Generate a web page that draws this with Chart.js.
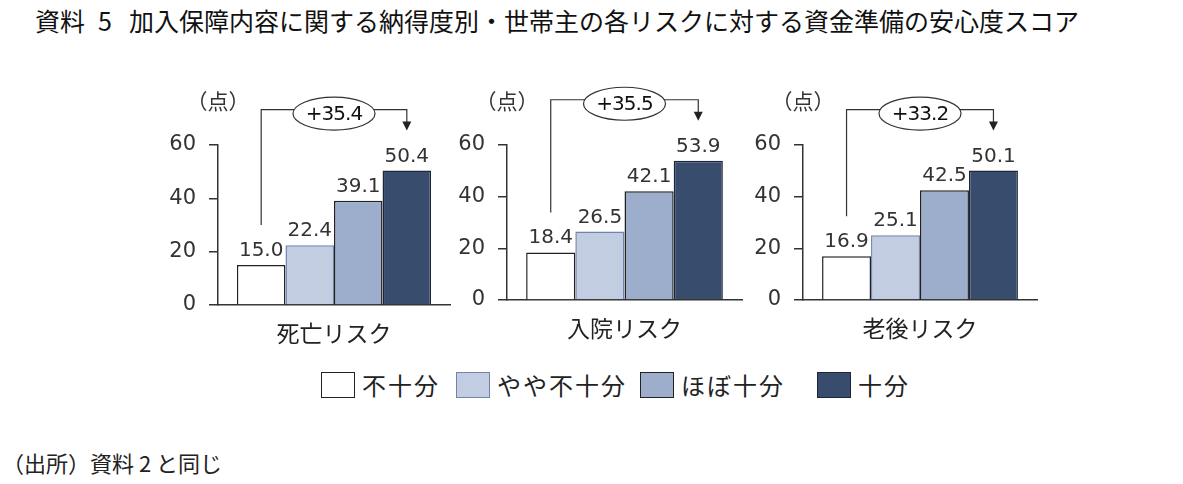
<!DOCTYPE html>
<html>
<head>
<meta charset="utf-8">
<script src="https://cdn.jsdelivr.net/npm/chart.js@4/dist/chart.umd.min.js"></script>
<style>
    body { margin: 0; background: #fff; width: 1183px; height: 484px; position: relative; overflow: hidden;
           font-family: "Noto Sans CJK JP", sans-serif; color: #222; }
    #title { position: absolute; left: 35px; top: 8px; font-size: 25px; line-height: 25px; font-weight: 400; white-space: nowrap; color: #111; }
    #title .n { margin: 0 17px 0 13px; }
    #source { position: absolute; left: 2px; top: 451px; font-size: 22px; line-height: 22px; white-space: nowrap; }
    canvas { position: absolute; top: 80px; }
    .lg-box { position: absolute; top: 372px; width: 34px; height: 26px; box-sizing: border-box; }
    .lg-text { position: absolute; top: 373px; font-size: 24px; line-height: 24px; letter-spacing: 2px; white-space: nowrap; }
</style>
</head>
<body>
<div id="title">資料<span class="n">5</span>加入保障内容に関する納得度別・世帯主の各リスクに対する資金準備の安心度スコア</div>
<canvas id="c0" width="310" height="280"></canvas>
<canvas id="c1" width="310" height="280"></canvas>
<canvas id="c2" width="310" height="280"></canvas>
<div id="legend"></div>
<div id="source">（出所）資料 2 と同じ</div>

<script>
    const risks = ['死亡リスク', '入院リスク', '老後リスク']
    const levels = ['不十分', 'やや不十分', 'ほぼ十分', '十分']
    const fusoku = [15.0, 18.4, 16.9]
    const yayaFusoku = [22.4, 26.5, 25.1]
    const hoboJubun = [39.1, 42.1, 42.5]
    const jubun = [50.4, 53.9, 50.1]
    const yTicks = [0, 20, 40, 60]
    const unitLabel = '（点）'

    const series = [fusoku, yayaFusoku, hoboJubun, jubun]

    const fills = ['#ffffff', '#c3cde1', '#9caecc', '#384d6e']
    const borders = ['#222222', '#7085ab', '#222222', '#1c2638']

    const numFont = '"DejaVu Sans", "Noto Sans CJK JP", sans-serif'
    const cjkFont = '"Noto Sans CJK JP", sans-serif'

    // where each small chart sits on the page
    const panels = [
        { left: 150, base: 305, right: 10 },
        { left: 439, base: 300, right: 7 },
        { left: 735, base: 300, right: 8 },
    ]
    const canvasTop = 80
    const canvasH = 280

    // value labels above the bars
    const valueLabels = {
        id: 'valueLabels',
        afterDatasetsDraw(chart) {
            const ctx = chart.ctx
            ctx.save()
            ctx.font = '20px ' + numFont
            ctx.fillStyle = '#333'
            ctx.textAlign = 'center'
            ctx.textBaseline = 'alphabetic'
            chart.data.datasets.forEach((ds, k) => {
                chart.getDatasetMeta(k).data.forEach((bar, j) => {
                    ctx.fillText(ds.data[j].toFixed(1), bar.x, bar.y - 9)
                })
            })
            ctx.restore()
        },
    }

    // unit label, bracket with the gap between 不十分 and 十分
    const gapNote = {
        id: 'gapNote',
        afterDraw(chart) {
            const ctx = chart.ctx
            const area = chart.chartArea
            ctx.save()
            ctx.font = '21px ' + cjkFont
            ctx.fillStyle = '#333'
            ctx.textAlign = 'center'
            ctx.textBaseline = 'middle'
            ctx.fillText(unitLabel, area.left, area.top - 44)

            const first = chart.getDatasetMeta(0).data[0]
            const last = chart.getDatasetMeta(3).data[0]
            const lowY = first.y - 40
            const tipY = last.y - 40
            const brY = tipY - 21
            const cx = (first.x - first.width / 2 + last.x + last.width / 2) / 2

            ctx.strokeStyle = '#333'
            ctx.lineWidth = 1.2
            ctx.beginPath()
            ctx.moveTo(first.x, lowY)
            ctx.lineTo(first.x, brY)
            ctx.lineTo(last.x, brY)
            ctx.lineTo(last.x, tipY - 8)
            ctx.stroke()
            ctx.fillStyle = '#222'
            ctx.beginPath()
            ctx.moveTo(last.x - 4.5, tipY - 9)
            ctx.lineTo(last.x + 4.5, tipY - 9)
            ctx.lineTo(last.x, tipY)
            ctx.closePath()
            ctx.fill()

            ctx.fillStyle = '#fff'
            ctx.beginPath()
            ctx.ellipse(cx, brY + 4, 41, 16.5, 0, 0, Math.PI * 2)
            ctx.fill()
            ctx.stroke()

            const d = chart.data.datasets[3].data[0] - chart.data.datasets[0].data[0]
            ctx.fillStyle = '#111'
            ctx.font = '20px ' + numFont
            ctx.letterSpacing = '-1px'
            ctx.textBaseline = 'middle'
            ctx.fillText('+' + d.toFixed(1), cx, brY + 5)
            ctx.restore()
        },
    }

    risks.forEach((risk, i) => {
        const p = panels[i]
        const el = document.getElementById('c' + i)
        el.style.left = p.left + 'px'
        const plotBottom = p.base - canvasTop
        const xHeight = canvasH - plotBottom

        new Chart(el, {
            type: 'bar',
            data: {
                labels: [risk],
                datasets: levels.map((lv, k) => ({
                    label: lv,
                    data: [series[k][i]],
                    backgroundColor: fills[k],
                    borderColor: borders[k],
                    borderWidth: 1.5,
                    categoryPercentage: 0.837,
                    barPercentage: 1.0,
                })),
            },
            options: {
                responsive: false,
                animation: false,
                layout: { padding: { top: 65, right: p.right, left: 0, bottom: 0 } },
                plugins: { legend: { display: false }, tooltip: { enabled: false } },
                scales: {
                    x: {
                        afterFit: s => { s.height = xHeight },
                        grid: { display: false, drawTicks: false },
                        border: { display: true, color: '#333', width: 1.5 },
                        ticks: { padding: 14, color: '#222', font: { family: cjkFont, size: 23 } },
                    },
                    y: {
                        min: 0,
                        max: 60,
                        afterBuildTicks: s => { s.ticks = yTicks.map(v => ({ value: v })) },
                        afterFit: s => { s.width = 68 },
                        border: { display: true, color: '#333', width: 1.5 },
                        grid: { drawOnChartArea: false, drawTicks: true, tickLength: 9, color: '#333', lineWidth: 1.5 },
                        ticks: { padding: 13, color: '#333', font: { family: numFont, size: 21 } },
                    },
                },
            },
            plugins: [valueLabels, gapNote],
        })
    })

    // legend
    const legendLeft = [321, 456, 640, 817]
    const legend = document.getElementById('legend')
    levels.forEach((lv, k) => {
        const box = document.createElement('div')
        box.className = 'lg-box'
        box.style.left = legendLeft[k] + 'px'
        box.style.background = fills[k]
        box.style.border = '1.5px solid ' + borders[k]
        legend.appendChild(box)
        const txt = document.createElement('div')
        txt.className = 'lg-text'
        txt.style.left = (legendLeft[k] + 41) + 'px'
        txt.textContent = lv
        legend.appendChild(txt)
    })
</script>
</body>
</html>
